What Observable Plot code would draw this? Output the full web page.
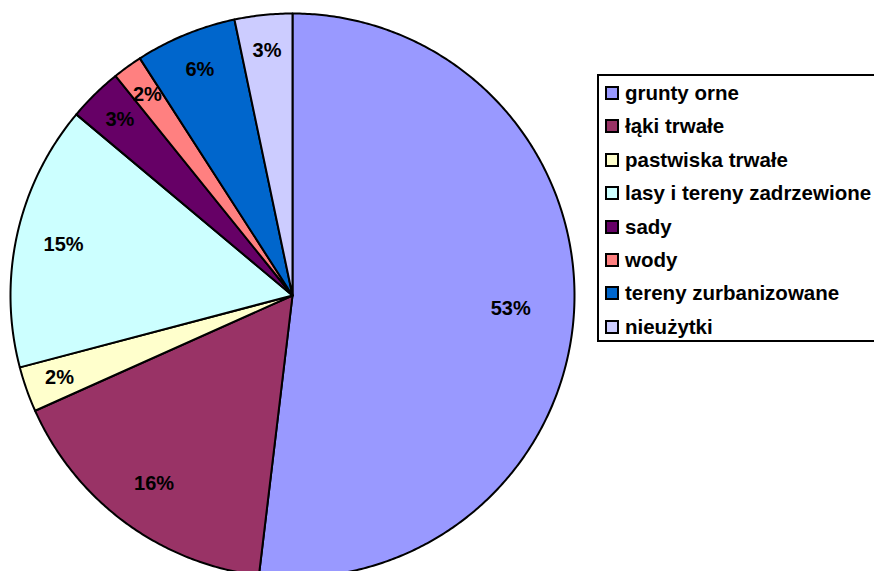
<!DOCTYPE html>
<html>
<head>
<meta charset="utf-8">
<script src="https://cdn.jsdelivr.net/npm/d3@7"></script>
<script src="https://cdn.jsdelivr.net/npm/@observablehq/plot@0.6"></script>
<style>
  html, body { margin: 0; padding: 0; background: #fff; overflow: hidden; }
  #wrap { position: relative; width: 874px; height: 571px; overflow: hidden; }
  #legend {
    position: absolute; left: 597px; top: 74px; width: 300px; height: 264px;
    border: 2px solid #000; box-sizing: content-box; background: #fff;
    font-family: "Liberation Sans", Arial, sans-serif; font-weight: bold; font-size: 20.5px;
  }
  .item { position: absolute; left: 6px; height: 20px; display: flex; align-items: center; white-space: nowrap; }
  .sw { width: 10px; height: 10px; border: 2px solid #000; margin-right: 6px; flex: none; }
</style>
</head>
<body>
<div id="wrap"></div>
<script>
const categories = ["grunty orne", "łąki trwałe", "pastwiska trwałe", "lasy i tereny zadrzewione", "sady", "wody", "tereny zurbanizowane", "nieużytki"];
const shares = [51.9, 16.4, 2.6, 15.2, 3.1, 1.7, 5.8, 3.3];
const labels = ["53%", "16%", "2%", "15%", "3%", "2%", "6%", "3%"];
const colors = ["#9999FF", "#993366", "#FFFFCC", "#CCFFFF", "#660066", "#FF8080", "#0066CC", "#CCCCFF"];

const total = d3.sum(shares);
let acc = 0;
const slices = categories.map((name, i) => {
  const a0 = acc / total * 2 * Math.PI;
  acc += shares[i];
  const a1 = acc / total * 2 * Math.PI;
  return {name, value: shares[i], label: labels[i], a0, a1};
});

// polygon points per slice (angles clockwise from 12 o'clock)
const pts = [];
for (const s of slices) {
  pts.push({name: s.name, x: 0, y: 0});
  const n = Math.max(2, Math.ceil((s.a1 - s.a0) / (Math.PI / 360)));
  for (let k = 0; k <= n; k++) {
    const a = s.a0 + (s.a1 - s.a0) * k / n;
    pts.push({name: s.name, x: Math.sin(a), y: Math.cos(a)});
  }
  pts.push({name: s.name, x: 0, y: 0});
}

const labelPts = slices.map(s => {
  const m = (s.a0 + s.a1) / 2;
  const r = Math.max(0.775, 0.885 - 0.0035 * s.value);
  return {label: s.label, x: r * Math.sin(m), y: r * Math.cos(m)};
});

const chart = Plot.plot({
  width: 874,
  height: 571,
  margin: 0,
  style: {background: "#fff"},
  x: {domain: [-1, 1], range: [10, 574], axis: null},
  y: {domain: [-1, 1], range: [577, 13], axis: null},
  color: {domain: categories, range: colors},
  marks: [
    Plot.line(pts, {x: "x", y: "y", z: "name", fill: "name", stroke: "#000", strokeWidth: 2, strokeLinejoin: "round", curve: "linear"}),
    Plot.text(labelPts, {x: "x", y: "y", text: "label", fontSize: 20, fontWeight: "bold", fontFamily: "Liberation Sans, Arial, sans-serif", fill: "#000"})
  ]
});

const wrap = document.getElementById("wrap");
wrap.appendChild(chart);

const legend = document.createElement("div");
legend.id = "legend";
categories.forEach((c, i) => {
  const it = document.createElement("div");
  it.className = "item";
  it.style.top = (7 + i * 33.4) + "px";
  const sw = document.createElement("span");
  sw.className = "sw";
  sw.style.background = colors[i];
  it.appendChild(sw);
  it.appendChild(document.createTextNode(c));
  legend.appendChild(it);
});
wrap.appendChild(legend);
</script>
</body>
</html>
